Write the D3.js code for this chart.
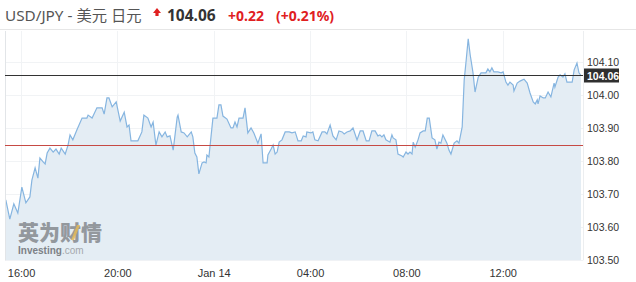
<!DOCTYPE html>
<html><head><meta charset="utf-8">
<script src="https://cdn.jsdelivr.net/npm/d3@7"></script>
<style>
html,body{margin:0;padding:0;background:#fff;}
svg{display:block;}
</style></head>
<body>
<svg id="c" width="636" height="282"></svg>
<script>
// ---- data ----
const times = ["01-13 15:22","01-13 15:32","01-13 15:42","01-13 15:52","01-13 16:02","01-13 16:12","01-13 16:22","01-13 16:27","01-13 16:35","01-13 16:42","01-13 16:47","01-13 16:55","01-13 17:00","01-13 17:05","01-13 17:12","01-13 17:20","01-13 17:27","01-13 17:35","01-13 17:40","01-13 17:50","01-13 17:57","01-13 18:02","01-13 18:09","01-13 18:19","01-13 18:32","01-13 18:44","01-13 18:47","01-13 18:57","01-13 19:09","01-13 19:22","01-13 19:27","01-13 19:34","01-13 19:39","01-13 19:47","01-13 19:57","01-13 20:07","01-13 20:17","01-13 20:24","01-13 20:29","01-13 20:34","01-13 20:51","01-13 21:01","01-13 21:06","01-13 21:16","01-13 21:24","01-13 21:29","01-13 21:36","01-13 21:44","01-13 21:51","01-13 21:59","01-13 22:04","01-13 22:11","01-13 22:19","01-13 22:29","01-13 22:31","01-13 22:39","01-13 22:46","01-13 22:54","01-13 23:04","01-13 23:08","01-13 23:13","01-13 23:18","01-13 23:23","01-13 23:31","01-13 23:36","01-13 23:41","01-13 23:43","01-13 23:48","01-13 23:58","01-14 00:08","01-14 00:13","01-14 00:18","01-14 00:23","01-14 00:33","01-14 00:43","01-14 00:48","01-14 00:53","01-14 00:58","01-14 01:03","01-14 01:13","01-14 01:18","01-14 01:25","01-14 01:33","01-14 01:40","01-14 01:50","01-14 01:58","01-14 02:03","01-14 02:13","01-14 02:15","01-14 02:23","01-14 02:28","01-14 02:33","01-14 02:38","01-14 02:43","01-14 02:50","01-14 02:58","01-14 03:08","01-14 03:15","01-14 03:23","01-14 03:30","01-14 03:38","01-14 03:43","01-14 03:50","01-14 03:52","01-14 04:02","01-14 04:07","01-14 04:12","01-14 04:20","01-14 04:30","01-14 04:37","01-14 04:42","01-14 04:50","01-14 04:57","01-14 05:05","01-14 05:12","01-14 05:20","01-14 05:25","01-14 05:32","01-14 05:40","01-14 05:47","01-14 05:57","01-14 06:05","01-14 06:12","01-14 06:20","01-14 06:27","01-14 06:34","01-14 06:42","01-14 06:49","01-14 06:54","01-14 06:59","01-14 07:04","01-14 07:09","01-14 07:19","01-14 07:24","01-14 07:27","01-14 07:34","01-14 07:39","01-14 07:49","01-14 07:52","01-14 07:59","01-14 08:04","01-14 08:09","01-14 08:14","01-14 08:17","01-14 08:22","01-14 08:29","01-14 08:34","01-14 08:42","01-14 08:47","01-14 08:52","01-14 08:57","01-14 09:04","01-14 09:11","01-14 09:16","01-14 09:21","01-14 09:26","01-14 09:31","01-14 09:41","01-14 09:46","01-14 09:51","01-14 09:59","01-14 10:06","01-14 10:11","01-14 10:19","01-14 10:24","01-14 10:29","01-14 10:34","01-14 10:39","01-14 10:46","01-14 10:51","01-14 10:59","01-14 11:06","01-14 11:11","01-14 11:18","01-14 11:23","01-14 11:28","01-14 11:33","01-14 11:38","01-14 11:48","01-14 11:56","01-14 12:01","01-14 12:08","01-14 12:13","01-14 12:18","01-14 12:26","01-14 12:28","01-14 12:36","01-14 12:43","01-14 12:53","01-14 13:01","01-14 13:08","01-14 13:16","01-14 13:21","01-14 13:26","01-14 13:28","01-14 13:33","01-14 13:41","01-14 13:46","01-14 13:53","01-14 14:00","01-14 14:08","01-14 14:10","01-14 14:18","01-14 14:23","01-14 14:30","01-14 14:35","01-14 14:40","01-14 14:53","01-14 14:58","01-14 15:05","01-14 15:10","01-14 15:15"];
const prices = [103.683,103.625,103.671,103.643,103.722,103.674,103.692,103.743,103.780,103.749,103.810,103.798,103.792,103.825,103.840,103.828,103.837,103.822,103.840,103.822,103.849,103.880,103.865,103.895,103.931,103.931,103.940,103.931,103.962,103.962,103.943,103.992,103.992,103.965,103.980,103.922,103.949,103.904,103.910,103.862,103.862,103.889,103.940,103.931,103.904,103.919,103.849,103.889,103.874,103.889,103.874,103.877,103.834,103.934,103.940,103.889,103.886,103.874,103.889,103.874,103.825,103.813,103.762,103.795,103.798,103.795,103.819,103.813,103.931,103.931,103.971,103.971,103.937,103.928,103.901,103.901,103.919,103.904,103.931,103.931,103.962,103.886,103.901,103.886,103.855,103.883,103.795,103.795,103.819,103.837,103.849,103.822,103.828,103.858,103.865,103.889,103.889,103.886,103.889,103.862,103.862,103.877,103.874,103.889,103.886,103.889,103.865,103.862,103.889,103.889,103.883,103.910,103.877,103.865,103.892,103.889,103.883,103.889,103.892,103.901,103.865,103.892,103.892,103.862,103.862,103.892,103.892,103.877,103.880,103.874,103.880,103.865,103.858,103.880,103.871,103.865,103.822,103.816,103.813,103.828,103.822,103.828,103.822,103.858,103.843,103.865,103.886,103.892,103.892,103.931,103.931,103.871,103.865,103.837,103.858,103.855,103.880,103.855,103.834,103.822,103.855,103.862,103.855,103.904,104.046,104.107,104.171,104.122,104.068,104.010,104.055,104.068,104.068,104.068,104.080,104.071,104.083,104.071,104.071,104.068,104.071,104.040,104.031,104.040,104.031,104.013,104.037,104.043,104.049,104.037,104.007,103.980,103.974,103.986,103.974,103.998,103.992,103.992,104.010,103.995,104.037,104.025,104.055,104.062,104.055,104.065,104.040,104.040,104.077,104.098,104.068,104.060];
const yTicks = [103.5,103.6,103.7,103.8,103.9,104.0,104.1];
const xTickTimes = ["01-13 16:00","01-13 20:00","01-14 00:00","01-14 04:00","01-14 08:00","01-14 12:00"];
const xTickLabels = ["16:00","20:00","Jan 14","04:00","08:00","12:00"];
const domainTimes = ["01-13 15:20","01-14 15:20"];
const lastPrice = 104.06;
const refLevel = 103.85;
const titleName = "USD/JPY - 美元 日元";
const titlePrice = "104.06";
const titleChange = "+0.22";
const titlePct = "(+0.21%)";

// ---- build ----
const parse = d3.timeParse("%Y-%m-%d %H:%M");
const P = s => parse("2021-" + s);
const data = times.map((t,i)=>({t:P(t), v:prices[i]}));

const svg = d3.select("#c");
const L = 5, R = 583, T = 31, B = 260.3;

const x = d3.scaleTime().domain(domainTimes.map(P)).range([L, R]);
const y = d3.scaleLinear().domain([103.5, 104.1]).range([B, 62.3]);

// header
svg.append("line").attr("x1",0).attr("x2",636).attr("y1",29.5).attr("y2",29.5)
  .attr("stroke","#e6e6e6").attr("stroke-width",1);
const hdr = svg.append("text").attr("x",5).attr("y",21)
  .attr("font-family","'Noto Sans','Noto Sans CJK SC',sans-serif").attr("font-size",15.3);
hdr.append("tspan").attr("fill","#555").text(titleName);
svg.append("path").attr("d","M157,8 L161,13 L158.6,13 L158.6,16 L155.4,16 L155.4,13 L153,13 Z").attr("fill","#e02020");
svg.append("text").attr("x",167).attr("y",21).attr("font-family","'Noto Sans',sans-serif")
  .attr("font-size",15.5).attr("font-weight","bold").attr("fill","#333").text(titlePrice);
svg.append("text").attr("x",228).attr("y",21).attr("font-family","'Noto Sans',sans-serif")
  .attr("font-size",14).attr("font-weight","bold").attr("fill","#e0201f").text(titleChange);
svg.append("text").attr("x",276).attr("y",21).attr("font-family","'Noto Sans',sans-serif")
  .attr("font-size",14).attr("font-weight","bold").attr("fill","#e0201f").text(titlePct);

// clip
svg.append("clipPath").attr("id","clip").append("rect")
  .attr("x",L).attr("y",T).attr("width",R-L).attr("height",B-T);

// grid
const g = svg.append("g");
g.selectAll(".hg").data(yTicks).join("line")
  .attr("x1",L).attr("x2",R).attr("y1",d=>Math.round(y(d))+0.5).attr("y2",d=>Math.round(y(d))+0.5)
  .attr("stroke","#f1f3f5");
g.selectAll(".vg").data(xTickTimes).join("line")
  .attr("x1",d=>Math.round(x(P(d)))+0.5).attr("x2",d=>Math.round(x(P(d)))+0.5)
  .attr("y1",T).attr("y2",B).attr("stroke","#f1f3f5");

// area + line
const plot = svg.append("g").attr("clip-path","url(#clip)");
plot.append("path").datum(data)
  .attr("d", d3.area().x(d=>x(d.t)).y0(B).y1(d=>y(d.v)))
  .attr("fill","#e4edf4");
// watermark
const wm = svg.append("g");
wm.append("text").attr("x",18).attr("y",240).attr("font-family","'Noto Sans CJK SC',sans-serif")
  .attr("font-size",21).attr("font-weight","900").attr("fill","#8b8f94").attr("opacity",0.9).text("英为财情");
wm.append("path").attr("d","M71,240 L77,225 L80,225 L74,240 Z").attr("fill","#e3b857").attr("opacity",0.85);
const wt = wm.append("text").attr("x",18).attr("y",254).attr("font-family","'Liberation Sans',Arial,sans-serif")
  .attr("font-size",10);
wt.append("tspan").attr("font-weight","bold").attr("fill","#7d8186").text("Investing");
wt.append("tspan").attr("fill","#a4a8ad").text(".com");

plot.append("path").datum(data)
  .attr("d", d3.line().x(d=>x(d.t)).y(d=>y(d.v)))
  .attr("fill","none").attr("stroke","#86b5e0").attr("stroke-width",1.2);

// frame
svg.append("line").attr("x1",L+0.5).attr("x2",L+0.5).attr("y1",T).attr("y2",B)
  .attr("stroke","#e2e5e8");
svg.append("line").attr("x1",R+0.5).attr("x2",R+0.5).attr("y1",T).attr("y2",B)
  .attr("stroke","#eceef0");

// reference lines
svg.append("line").attr("x1",L).attr("x2",R).attr("y1",Math.round(y(lastPrice))+0.5).attr("y2",Math.round(y(lastPrice))+0.5)
  .attr("stroke","#333").attr("stroke-width",1);
svg.append("line").attr("x1",L).attr("x2",R).attr("y1",Math.round(y(refLevel))+0.5).attr("y2",Math.round(y(refLevel))+0.5)
  .attr("stroke","#c64a44").attr("stroke-width",1);

// y axis (right)
const ya = svg.append("g").attr("transform",`translate(${R},0)`)
  .call(d3.axisRight(y).tickValues(yTicks).tickFormat(d3.format(".2f")).tickSize(0).tickPadding(4));
ya.select(".domain").remove();
ya.selectAll("text").attr("font-family","'Liberation Sans',Arial,sans-serif").attr("font-size",10.5).attr("fill","#333");

// badge
const by = y(lastPrice);
svg.append("rect").attr("x",R+1).attr("y",by-7).attr("width",35).attr("height",14).attr("fill","#2f2f2f");
svg.append("text").attr("x",R+4).attr("y",by+4).attr("font-family","'Liberation Sans',Arial,sans-serif")
  .attr("font-size",10.5).attr("font-weight","bold").attr("fill","#fff").text(d3.format(".2f")(lastPrice));

// x axis
const xa = svg.append("g").attr("transform",`translate(0,${B})`)
  .call(d3.axisBottom(x).tickValues(xTickTimes.map(P)).tickFormat((d,i)=>xTickLabels[i]).tickSize(0).tickPadding(9));
xa.select(".domain").remove();
xa.selectAll("text").attr("font-family","'Liberation Sans',Arial,sans-serif").attr("font-size",11).attr("fill","#333");
</script>
</body></html>
